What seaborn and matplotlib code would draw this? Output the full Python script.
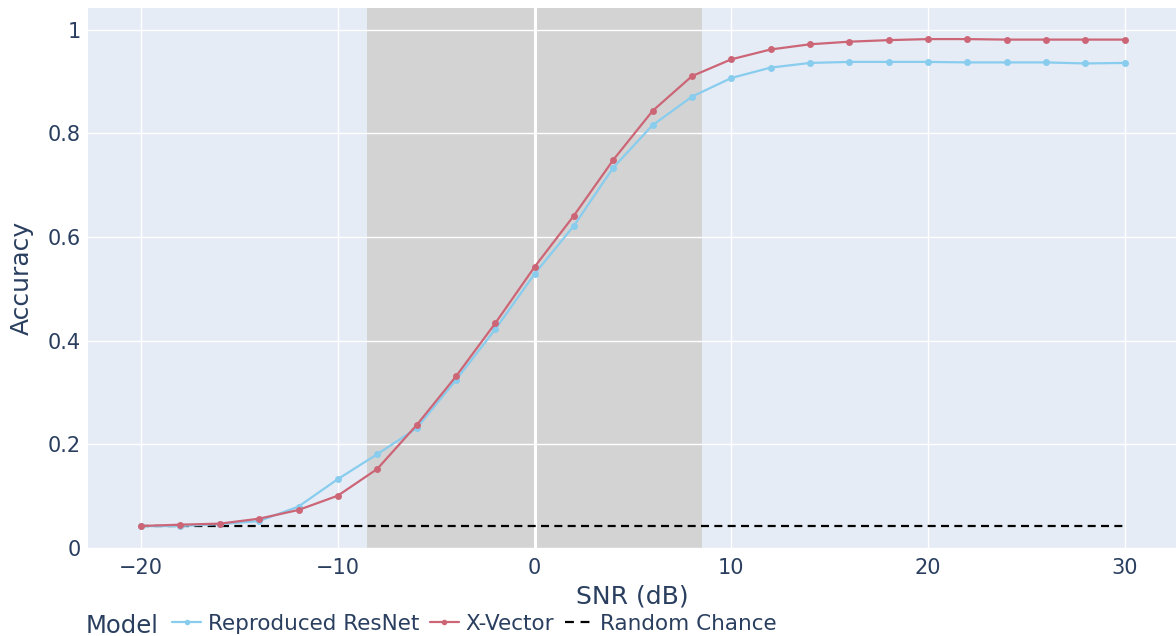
import numpy as np
import pandas as pd
import matplotlib
matplotlib.use("Agg")
import matplotlib.pyplot as plt
import seaborn as sns
from matplotlib.lines import Line2D
from matplotlib.ticker import FuncFormatter

snr = [-20, -18, -16, -14, -12, -10, -8, -6, -4, -2, 0, 2, 4, 6, 8,
       10, 12, 14, 16, 18, 20, 22, 24, 26, 28, 30]
resnet = [0.042, 0.0425, 0.046, 0.052, 0.080, 0.133, 0.181, 0.231, 0.324, 0.422,
          0.529, 0.622, 0.734, 0.816, 0.871, 0.907, 0.927, 0.936, 0.938, 0.938,
          0.938, 0.937, 0.937, 0.937, 0.935, 0.936]
xvector = [0.0425, 0.045, 0.047, 0.0566, 0.0734, 0.101, 0.1525, 0.237, 0.331, 0.4337,
           0.5425, 0.6415, 0.749, 0.8436, 0.9106, 0.943, 0.962, 0.972, 0.977, 0.980,
           0.982, 0.982, 0.981, 0.981, 0.981, 0.981]
random_chance = 1 / 24
model_names = ["Reproduced ResNet", "X-Vector", "Random Chance"]
shade_range = (-8.5, 8.5)

df = pd.DataFrame({
    "SNR": snr * 2,
    "Accuracy": resnet + xvector,
    "Model": [model_names[0]] * len(snr) + [model_names[1]] * len(snr),
})
df_rc = pd.DataFrame({"SNR": snr, "Accuracy": [random_chance] * len(snr)})

TEXT = "#2a3f5f"
BG = "#E5ECF6"
BLUE = "#88CCEE"
RED = "#CC6677"
DASH = [3.6, 2.4]

sns.set_theme(style="darkgrid")
plt.rcParams["font.family"] = ["DejaVu Sans"]
plt.rcParams["axes.unicode_minus"] = True

fig = plt.figure(figsize=(11.76, 6.36), dpi=100)
ax = fig.add_axes([88 / 1176, 1 - 548 / 636, 1 - 88 / 1176, 540 / 636])
ax.set_facecolor(BG)

ax.axvspan(shade_range[0], shade_range[1], color="#D3D3D3", zorder=0.1, lw=0)

sns.lineplot(data=df, x="SNR", y="Accuracy", hue="Model",
             palette={model_names[0]: BLUE, model_names[1]: RED},
             marker="o", markersize=5, markeredgewidth=0, linewidth=1.6,
             ax=ax, legend=False, zorder=3)
sns.lineplot(data=df_rc, x="SNR", y="Accuracy", color="black", linewidth=1.6,
             ax=ax, legend=False, zorder=2)
ax.lines[-1].set_dashes(DASH)

ax.set_xlim(-22.7, 32.6)
ax.set_ylim(0, 1.042)
ax.set_xticks([-20, -10, 0, 10, 20, 30])
ax.set_yticks([0, 0.2, 0.4, 0.6, 0.8, 1.0])
ax.yaxis.set_major_formatter(FuncFormatter(lambda v, p: f"{v:g}"))
ax.set_axisbelow(True)
ax.grid(True, color="white", linewidth=1.0, zorder=0.5)
ax.axvline(0, color="white", linewidth=2.2, zorder=0.6)
for s in ax.spines.values():
    s.set_visible(False)
ax.tick_params(axis="both", length=0, labelsize=15, labelcolor=TEXT)
ax.tick_params(axis="x", pad=7)
ax.tick_params(axis="y", pad=5)
ax.set_xlabel("SNR (dB)", fontsize=18, color=TEXT, labelpad=5)
ax.set_ylabel("Accuracy", fontsize=18, color=TEXT, labelpad=10)

handles = [
    Line2D([0], [0], color=BLUE, lw=1.6, marker="o", markersize=4, markeredgewidth=0),
    Line2D([0], [0], color=RED, lw=1.6, marker="o", markersize=4, markeredgewidth=0),
    Line2D([0], [0], color="black", lw=1.6, dashes=[4, 3]),
]
fig.text(86 / 1176, 1 - 626 / 636, "Model", fontsize=17.5, color=TEXT,
         ha="left", va="center")
leg = fig.legend(handles, model_names, loc="center left", ncol=3,
                 bbox_to_anchor=(172 / 1176, 1 - 624 / 636), frameon=False,
                 fontsize=15.5, handlelength=1.35, handletextpad=0.3,
                 columnspacing=0.5, borderaxespad=0, borderpad=0)
for t in leg.get_texts():
    t.set_color(TEXT)

fig.savefig("out.png", dpi=100, facecolor="white")
